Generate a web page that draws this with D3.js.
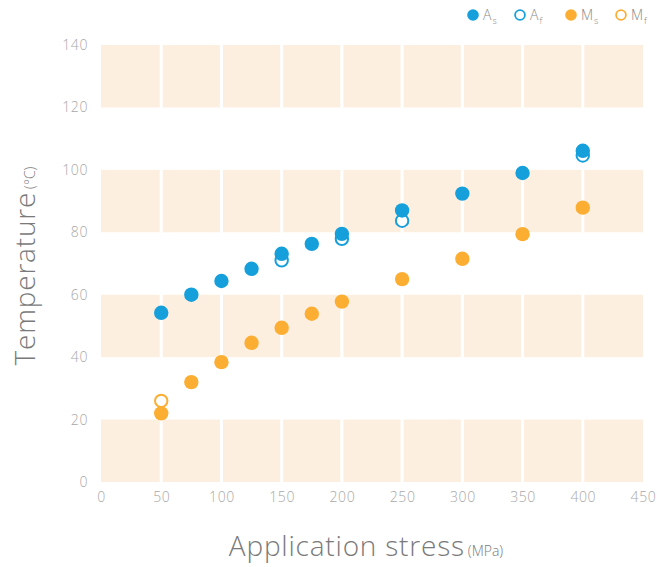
<!DOCTYPE html>
<html>
<head>
<meta charset="utf-8">
<script src="https://cdn.jsdelivr.net/npm/d3@7"></script>
<style>
  html, body { margin: 0; padding: 0; background: #fff; }
  svg { display: block; font-family: "Open Sans", "Noto Sans", sans-serif; }
</style>
</head>
<body>
<svg id="chart" width="657" height="567"></svg>
<script>
// Transformation temperatures versus applied stress
const stressAs = [50, 75, 100, 125, 150, 175, 200, 250, 300, 350, 400];
const tempAs   = [54.2, 60.0, 64.4, 68.3, 73.1, 76.3, 79.5, 87.0, 92.4, 99.0, 106.1];
// A_f only where it differs from A_s
const stressAf = [150, 200, 250, 400];
const tempAf   = [71.0, 77.9, 83.7, 104.6];
const stressMs = [50, 75, 100, 125, 150, 175, 200, 250, 300, 350, 400];
const tempMs   = [22.0, 32.0, 38.4, 44.6, 49.4, 53.9, 57.8, 65.0, 71.5, 79.4, 87.9];
const stressMf = [50];
const tempMf   = [26.0];

const xTicks = [0, 50, 100, 150, 200, 250, 300, 350, 400, 450];
const yTicks = [0, 20, 40, 60, 80, 100, 120, 140];
const bandRanges = [[0, 20], [40, 60], [80, 100], [120, 140]];

const blue = "#159fdb";
const orange = "#fcae33";

const svg = d3.select("#chart");
const margin = { left: 101, right: 14, top: 45, bottom: 85 };
const W = 657, H = 567;

const x = d3.scaleLinear().domain([0, 450]).range([margin.left, W - margin.right]);
const y = d3.scaleLinear().domain([0, 140]).range([H - margin.bottom, margin.top]);

// shaded horizontal bands
svg.append("g").selectAll("rect").data(bandRanges).join("rect")
  .attr("x", x(0)).attr("width", x(450) - x(0))
  .attr("y", d => y(d[1])).attr("height", d => y(d[0]) - y(d[1]))
  .attr("fill", "#fdefe0");

// white vertical separators at the inner x ticks
svg.append("g").selectAll("line").data(xTicks.slice(1, -1)).join("line")
  .attr("x1", d => x(d)).attr("x2", d => x(d))
  .attr("y1", y(140)).attr("y2", y(0))
  .attr("stroke", "#fff").attr("stroke-width", 3);

// axes (labels only)
const xAxis = d3.axisBottom(x).tickValues(xTicks).tickSize(0).tickPadding(10);
const gx = svg.append("g").attr("transform", `translate(0,${y(0)})`).call(xAxis);
gx.select(".domain").remove();
gx.selectAll("text").attr("fill", "#a8a8a8").attr("font-size", 14).attr("font-weight", 300)
  .attr("letter-spacing", 0.6).attr("font-family", "'Open Sans', sans-serif");

const yAxis = d3.axisLeft(y).tickValues(yTicks).tickSize(0).tickPadding(13);
const gy = svg.append("g").attr("transform", `translate(${x(0)},0)`).call(yAxis);
gy.select(".domain").remove();
gy.selectAll("text").attr("fill", "#a8a8a8").attr("font-size", 14).attr("font-weight", 300)
  .attr("letter-spacing", 0.6).attr("font-family", "'Open Sans', sans-serif");

// axis titles
const xt = svg.append("text").attr("x", 366).attr("y", 556).attr("text-anchor", "middle")
  .attr("fill", "#7a7a7a").attr("font-weight", 300);
xt.append("tspan").attr("font-size", 28).attr("letter-spacing", 0.8).text("Application stress");
xt.append("tspan").attr("font-size", 14).attr("dx", 3).attr("letter-spacing", 0).text("(MPa)");

const yt = svg.append("text").attr("transform", `translate(35,${266}) rotate(-90)`)
  .attr("text-anchor", "middle").attr("fill", "#7a7a7a").attr("font-weight", 300);
yt.append("tspan").attr("font-size", 28).attr("letter-spacing", 0.8).text("Temperature");
yt.append("tspan").attr("font-size", 14).attr("dx", 3).attr("letter-spacing", 0).text("(°C)");

// points
const R = 7.2;
function series(xs, ys, color, filled) {
  svg.append("g").selectAll("circle").data(xs.map((v, i) => [v, ys[i]])).join("circle")
    .attr("cx", d => x(d[0])).attr("cy", d => y(d[1]))
    .attr("r", filled ? R : R - 1)
    .attr("fill", filled ? color : "#fff")
    .attr("stroke", color).attr("stroke-width", filled ? 0 : 2);
}
series(stressAf, tempAf, blue, false);
series(stressAs, tempAs, blue, true);
series(stressMf, tempMf, orange, false);
series(stressMs, tempMs, orange, true);

// legend
const legendItems = [
  { base: "A", sub: "s", color: blue, filled: true, cx: 473 },
  { base: "A", sub: "f", color: blue, filled: false, cx: 520 },
  { base: "M", sub: "s", color: orange, filled: true, cx: 571 },
  { base: "M", sub: "f", color: orange, filled: false, cx: 621 }
];
const lg = svg.append("g");
legendItems.forEach(it => {
  lg.append("circle").attr("cx", it.cx).attr("cy", 15)
    .attr("r", it.filled ? 5.8 : 4.9)
    .attr("fill", it.filled ? it.color : "#fff")
    .attr("stroke", it.color).attr("stroke-width", it.filled ? 0 : 1.8);
  const t = lg.append("text").attr("x", it.cx + 10).attr("y", 20)
    .attr("fill", "#8a8a8a").attr("font-weight", 300);
  t.append("tspan").attr("font-size", 14).text(it.base);
  t.append("tspan").attr("font-size", 9).attr("dy", 4).attr("dx", 1).text(it.sub);
});
</script>
</body>
</html>
